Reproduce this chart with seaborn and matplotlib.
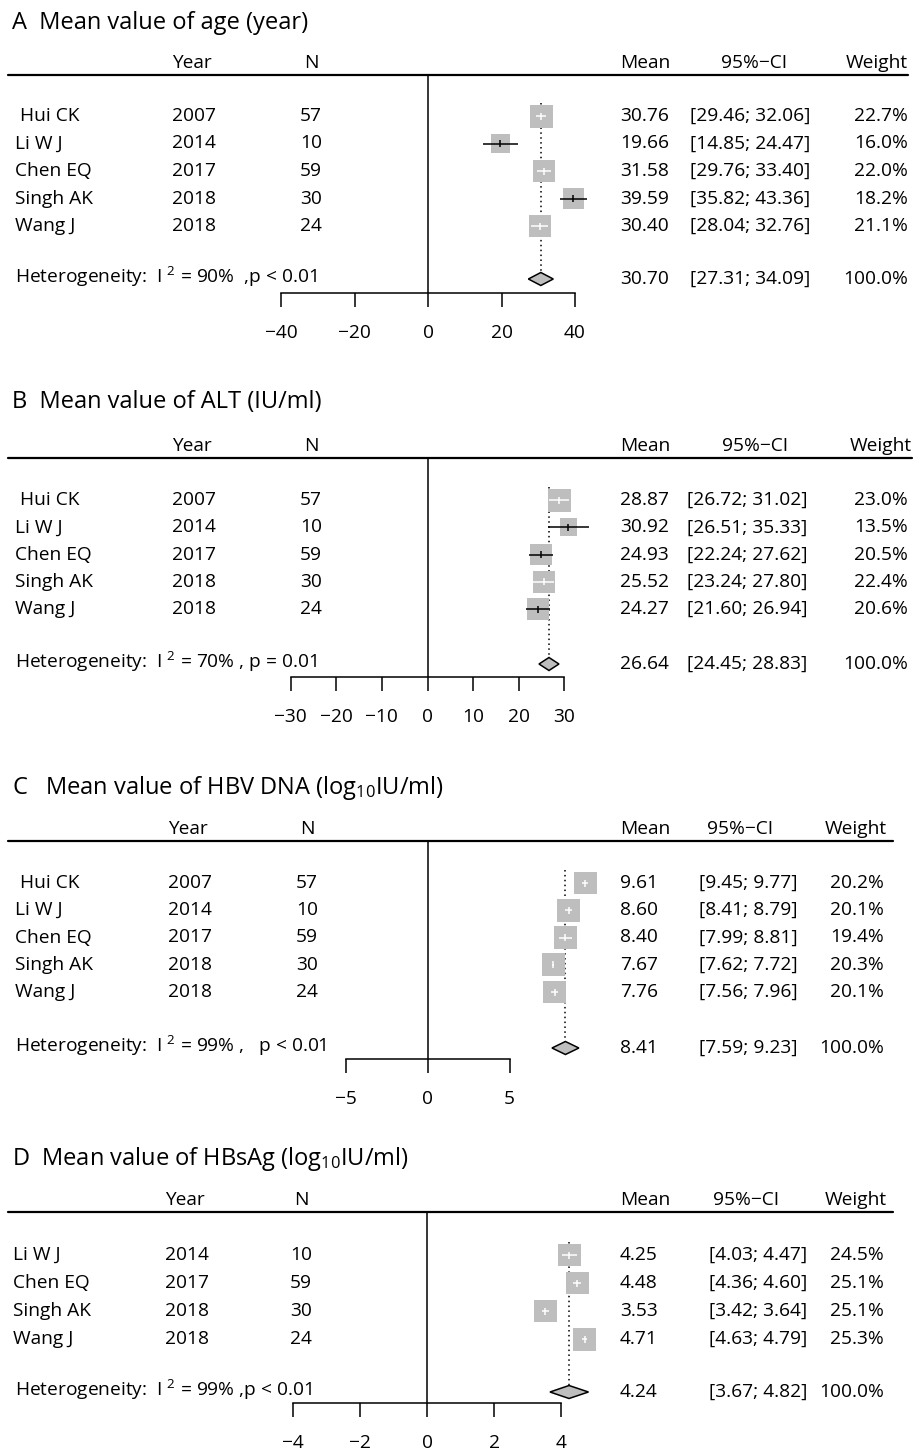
import matplotlib
matplotlib.use("Agg")
import matplotlib.pyplot as plt
import seaborn as sns
import numpy as np
import pandas as pd
from matplotlib.transforms import blended_transform_factory

# ---------------- data ----------------
studies_A = [" Hui CK", "Li W J", "Chen EQ", "Singh AK", "Wang J"]
years_A = [2007, 2014, 2017, 2018, 2018]
n_A = [57, 10, 59, 30, 24]
mean_A = [30.76, 19.66, 31.58, 39.59, 30.40]
lo_A = [29.46, 14.85, 29.76, 35.82, 28.04]
hi_A = [32.06, 24.47, 33.40, 43.36, 32.76]
w_A = [22.7, 16.0, 22.0, 18.2, 21.1]
pooled_A = [30.70, 27.31, 34.09]
ticks_A = [-40, -20, 0, 20, 40]
title_A = "A  Mean value of age (year)"
het_A = "Heterogeneity:  I $^{2}$ = 90%  ,p < 0.01"

studies_B = [" Hui CK", "Li W J", "Chen EQ", "Singh AK", "Wang J"]
years_B = [2007, 2014, 2017, 2018, 2018]
n_B = [57, 10, 59, 30, 24]
mean_B = [28.87, 30.92, 24.93, 25.52, 24.27]
lo_B = [26.72, 26.51, 22.24, 23.24, 21.60]
hi_B = [31.02, 35.33, 27.62, 27.80, 26.94]
w_B = [23.0, 13.5, 20.5, 22.4, 20.6]
pooled_B = [26.64, 24.45, 28.83]
ticks_B = [-30, -20, -10, 0, 10, 20, 30]
title_B = "B  Mean value of ALT (IU/ml)"
het_B = "Heterogeneity:  I $^{2}$ = 70% , p = 0.01"

studies_C = [" Hui CK", "Li W J", "Chen EQ", "Singh AK", "Wang J"]
years_C = [2007, 2014, 2017, 2018, 2018]
n_C = [57, 10, 59, 30, 24]
mean_C = [9.61, 8.60, 8.40, 7.67, 7.76]
lo_C = [9.45, 8.41, 7.99, 7.62, 7.56]
hi_C = [9.77, 8.79, 8.81, 7.72, 7.96]
w_C = [20.2, 20.1, 19.4, 20.3, 20.1]
pooled_C = [8.41, 7.59, 9.23]
ticks_C = [-5, 0, 5]
title_C = "C   Mean value of HBV DNA (log$_{10}$IU/ml)"
het_C = "Heterogeneity:  I $^{2}$ = 99% ,   p < 0.01"

studies_D = ["Li W J", "Chen EQ", "Singh AK", "Wang J"]
years_D = [2014, 2017, 2018, 2018]
n_D = [10, 59, 30, 24]
mean_D = [4.25, 4.48, 3.53, 4.71]
lo_D = [4.03, 4.36, 3.42, 4.63]
hi_D = [4.47, 4.60, 3.64, 4.79]
w_D = [24.5, 25.1, 25.1, 25.3]
pooled_D = [4.24, 3.67, 4.82]
ticks_D = [-4, -2, 0, 2, 4]
title_D = "D  Mean value of HBsAg (log$_{10}$IU/ml)"
het_D = "Heterogeneity:  I $^{2}$ = 99% ,p < 0.01"

col_headers = ["Year", "N", "Mean", "95%\u2212CI", "Weight"]

# ---------------- style ----------------
sns.set_theme(style="white")
FONT = "Open Sans"
plt.rcParams['font.family'] = [FONT, 'DejaVu Sans']
plt.rcParams['mathtext.fontset'] = 'custom'
plt.rcParams['mathtext.rm'] = FONT
plt.rcParams['mathtext.it'] = FONT
plt.rcParams['mathtext.bf'] = FONT
plt.rcParams['axes.unicode_minus'] = True

W, H = 913, 1454
fig = plt.figure(figsize=(W / 100, H / 100), dpi=100)
PT = 0.72  # points per pixel
GRAY = "#BEBEBE"
FS = 13.8
FS_T = 17
BOX_MAX_PX = 23

panels = [
    dict(st=studies_A, yr=years_A, n=n_A, m=mean_A, lo=lo_A, hi=hi_A, w=w_A, pool=pooled_A,
         ticks=ticks_A, title=title_A, het=het_A,
         x0=428, k=3.675, title_y=23, head_y=63, line_y=75, line_r=908, row0=116, sp=27.5,
         het_y=277, axis_y=293,
         cx=dict(name=15, year=172, n=311, mean=620, ci=750, ci_h=754, w=908, w_h=908)),
    dict(st=studies_B, yr=years_B, n=n_B, m=mean_B, lo=lo_B, hi=hi_B, w=w_B, pool=pooled_B,
         ticks=ticks_B, title=title_B, het=het_B,
         x0=427.5, k=4.56, title_y=402, head_y=446, line_y=458, line_r=912, row0=500, sp=27.3,
         het_y=662, axis_y=677,
         cx=dict(name=15, year=172, n=311, mean=620, ci=747, ci_h=755, w=908, w_h=912)),
    dict(st=studies_C, yr=years_C, n=n_C, m=mean_C, lo=lo_C, hi=hi_C, w=w_C, pool=pooled_C,
         ticks=ticks_C, title=title_C, het=het_C,
         x0=427.5, k=16.4, title_y=788, head_y=829, line_y=841, line_r=893, row0=883, sp=27.25,
         het_y=1046, axis_y=1059,
         cx=dict(name=15, year=168, n=307, mean=620, ci=748, ci_h=740, w=884, w_h=887)),
    dict(st=studies_D, yr=years_D, n=n_D, m=mean_D, lo=lo_D, hi=hi_D, w=w_D, pool=pooled_D,
         ticks=ticks_D, title=title_D, het=het_D,
         x0=427, k=33.5, title_y=1159, head_y=1200, line_y=1212, line_r=893, row0=1255, sp=28,
         het_y=1390, axis_y=1403,
         cx=dict(name=13, year=165, n=301, mean=620, ci=758, ci_h=746, w=884, w_h=887)),
]

for p in panels:
    ax = fig.add_axes([0, 0, 1, 1])
    ax.patch.set_alpha(0)
    tr = blended_transform_factory(ax.transAxes, ax.transData)
    fx = lambda px: px / W
    cx = p['cx']
    nrow = len(p['st'])
    ys = p['row0'] + np.arange(nrow) * p['sp']
    m = np.array(p['m']); lo = np.array(p['lo']); hi = np.array(p['hi']); w = np.array(p['w'])
    df = pd.DataFrame(dict(study=p['st'], mean=m, y=ys, weight=w))

    wmax, wmin = w.max(), w.min()
    smax = (BOX_MAX_PX * PT) ** 2
    sns.scatterplot(data=df, x='mean', y='y', size='weight',
                    sizes=(smax * wmin / wmax, smax), marker='s', color=GRAY,
                    linewidth=0, legend=False, ax=ax, zorder=2)

    side_px = BOX_MAX_PX * np.sqrt(w / wmax)
    ci_px = (hi - lo) * p['k']
    cols = ['white' if c < s else 'black' for c, s in zip(ci_px, side_px)]
    ax.hlines(ys, lo, hi, colors=cols, lw=1.1, zorder=3)
    ax.vlines(m, ys - 3.5, ys + 3.5, colors=cols, lw=1.1, zorder=3)

    pm, plo, phi = p['pool']
    hy = p['het_y'] + 2
    dh = 6.5
    ax.fill([plo, pm, phi, pm], [hy, hy - dh, hy, hy + dh], facecolor=GRAY,
            edgecolor='black', lw=1.1, zorder=3)
    ax.vlines(pm, p['row0'] - 13, hy - dh, colors='black', linestyles=(0, (1, 2.2)),
              lw=1.1, zorder=1)
    ax.vlines(0, p['line_y'], p['axis_y'], colors='black', lw=1.1, zorder=1)

    ax.plot([fx(8), fx(p['line_r'])], [p['line_y']] * 2, transform=tr, color='black',
            lw=1.6, clip_on=False)

    # axis
    ax.set_ylim(H, 0)
    ax.set_xlim(-p['x0'] / p['k'], (W - p['x0']) / p['k'])
    for s in ['top', 'left', 'right']:
        ax.spines[s].set_visible(False)
    ax.spines['bottom'].set_position(('data', p['axis_y']))
    ax.spines['bottom'].set_bounds(p['ticks'][0], p['ticks'][-1])
    ax.spines['bottom'].set_linewidth(1.1)
    ax.spines['bottom'].set_color('black')
    ax.set_xticks(p['ticks'])
    ax.set_yticks([])
    ax.tick_params(axis='x', bottom=True, direction='out', length=10, width=1.1,
                   pad=12, labelsize=FS, colors='black')
    ax.set_xlabel('')
    ax.set_ylabel('')
    ax.grid(False)

    # texts
    def T(px, y, s, ha='left', fs=FS):
        ax.text(fx(px), y, s, transform=tr, ha=ha, va='center', fontsize=fs, color='black')

    T(12, p['title_y'], p['title'], fs=FS_T)
    hy0 = p['head_y']
    T(cx['year'], hy0, col_headers[0])
    T(cx['n'], hy0, col_headers[1], ha='center')
    T(cx['mean'], hy0, col_headers[2])
    T(cx['ci_h'], hy0, col_headers[3], ha='center')
    T(cx['w_h'], hy0, col_headers[4], ha='right')
    for i in range(nrow):
        y = ys[i]
        T(cx['name'], y, p['st'][i])
        T(cx['year'], y, str(p['yr'][i]))
        T(cx['n'], y, str(p['n'][i]), ha='center')
        T(cx['mean'], y, f"{m[i]:.2f}")
        T(cx['ci'], y, f"[{lo[i]:.2f}; {hi[i]:.2f}]", ha='center')
        T(cx['w'], y, f"{w[i]:.1f}%", ha='right')
    T(15, p['het_y'], p['het'])
    T(cx['mean'], p['het_y'] + 2, f"{pm:.2f}")
    T(cx['ci'], p['het_y'] + 2, f"[{plo:.2f}; {phi:.2f}]", ha='center')
    T(cx['w'], p['het_y'] + 2, f"{100:.1f}%", ha='right')

fig.savefig("out.png", dpi=100)
